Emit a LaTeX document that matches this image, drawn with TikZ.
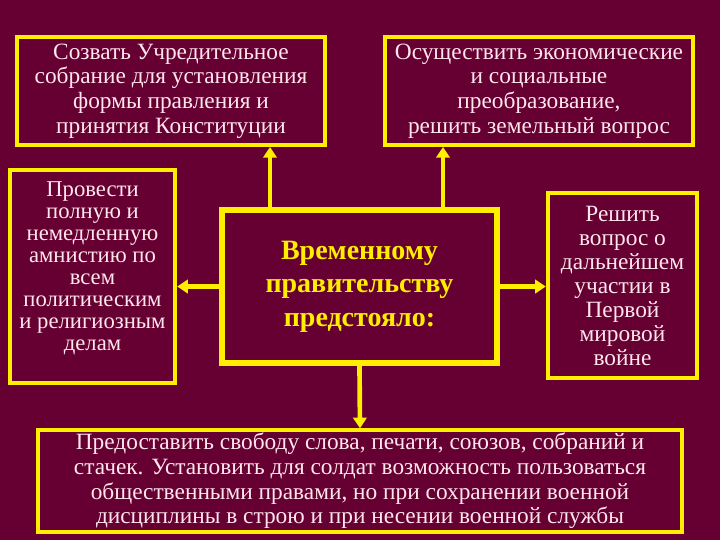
\documentclass[tikz,border=0pt]{standalone}
\usepackage{fontspec}
\setmainfont{Liberation Serif}
\usetikzlibrary{arrows.meta}
\definecolor{bg}{RGB}{102,0,51}
\definecolor{yl}{RGB}{255,238,0}
\definecolor{tx}{RGB}{255,230,235}
\begin{document}
\begin{tikzpicture}[x=0.75pt,y=-0.75pt,
 box/.style={draw=yl,line width=3pt,fill=bg,text=tx,align=center,inner sep=0pt,font=\fontsize{17.5}{18.5}\selectfont},
 arr/.style={draw=yl,line width=3.5pt,-{Triangle[length=8pt,width=10pt]}}]
\fill[bg] (0,0) rectangle (720,540);
\useasboundingbox (0,0) rectangle (720,540);
\node[box,minimum width=231pt,minimum height=81pt] (tl) at (171,91) {Созвать Учредительное\\собрание для установления\\формы правления и\\принятия Конституции};
\node[box,minimum width=231pt,minimum height=81pt] (tr) at (539,91) {Осуществить экономические\\и социальные\\преобразование,\\решить земельный вопрос};
\node[box,minimum width=124pt,minimum height=160pt,text depth=0pt] (l) at (92.5,276.5) {};
\node[text=tx,align=center,inner sep=0pt,font=\fontsize{17}{16.5}\selectfont] (lt) at (92.5,268) {Провести\\полную и\\немедленную\\амнистию по\\всем\\политическим\\и религиозным\\делам};
\node[box,minimum width=112pt,minimum height=139pt,font=\fontsize{17.5}{18}\selectfont] (r) at (622.5,285.5) {Решить\\вопрос о\\дальнейшем\\участии в\\Первой\\мировой\\войне};
\node[box,line width=4.5pt,minimum width=206pt,minimum height=115pt,text=yl,font=\bfseries\fontsize{21}{25}\selectfont] (c) at (359.5,286.5) {Временному\\правительству\\предстояло:};
\node[box,minimum width=483pt,minimum height=76pt] (b) at (360,481) {Предоставить свободу слова, печати, союзов, собраний и\\стачек. Установить для солдат возможность пользоваться\\общественными правами, но при сохранении военной\\дисциплины в строю и при несении военной службы};
\draw[arr] (c.north -| tl.south east) ++(-57,0) coordinate (a1) -- (a1 |- tl.south);
\draw[arr] (c.north -| tr.south west) ++(60,0) coordinate (a2) -- (a2 |- tr.south);
\draw[arr] (c.west) -- (l.east |- c.west);
\draw[arr] (c.east) -- (r.west |- c.east);
\draw[arr] (c.south) -- (b.north);
\end{tikzpicture}
\end{document}
